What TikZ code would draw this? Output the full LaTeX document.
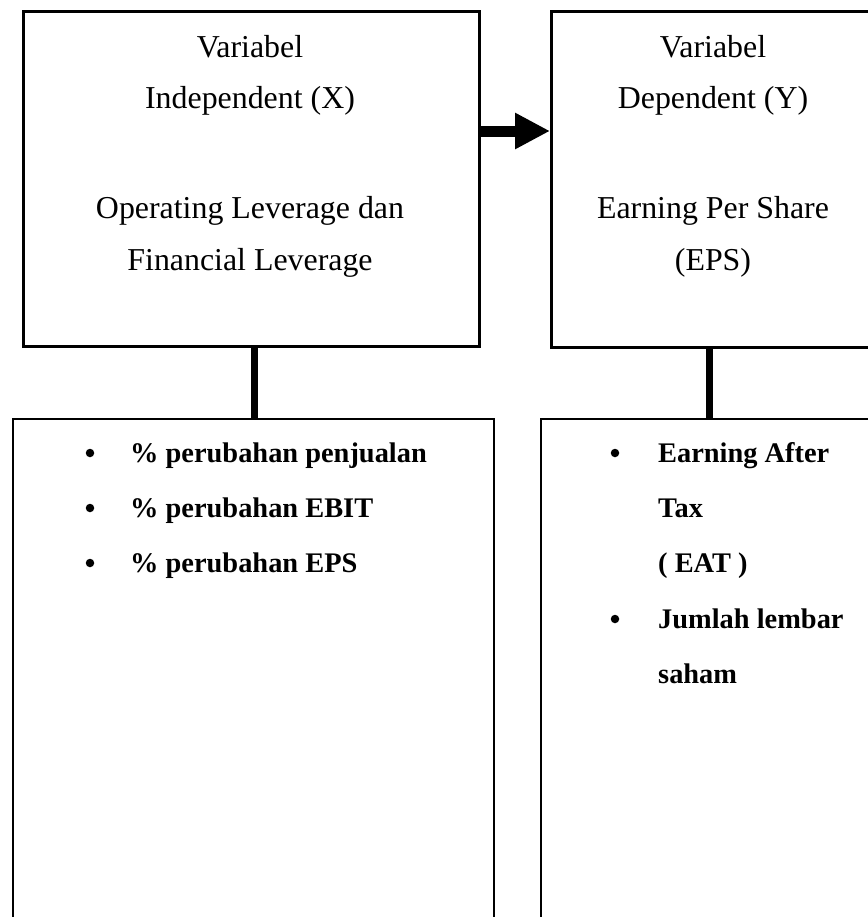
\documentclass[tikz,border=0pt]{standalone}
\usepackage{fontspec}
\setmainfont{Liberation Serif}
\usetikzlibrary{arrows.meta}
\begin{document}
\begin{tikzpicture}[x=1bp,y=-1bp,
  topbox/.style={draw=black,line width=2.5bp,rectangle,inner sep=0pt,anchor=north west},
  botbox/.style={draw=black,line width=2bp,rectangle,inner sep=0pt,anchor=north west},
  toptext/.style={font=\fontsize{32}{38}\selectfont,inner sep=0pt,anchor=base},
  bottext/.style={font=\fontsize{28.5}{34}\selectfont\bfseries,inner sep=0pt,anchor=base west},
  dot/.style={circle,fill=black,inner sep=0pt,minimum size=8.5bp},
  conn/.style={line width=7bp},
  bigarrow/.style={line width=11bp,-{Triangle[length=35bp,width=34bp]}}]
\useasboundingbox[fill=white] (0,0) rectangle (868,917);
% boxes
\node[topbox,minimum width=456bp,minimum height=335bp] (ind) at (22,10) {};
\node[topbox,minimum width=326bp,minimum height=336bp] (dep) at (550,10) {};
\node[botbox,minimum width=481bp,minimum height=600bp] (indb) at (12,418) {};
\node[botbox,minimum width=400bp,minimum height=600bp] (depb) at (540,418) {};
% top-left text
\node[toptext] (t1) at (250,57) {Variabel};
\node[toptext] (t2) at (250,108) {Independent (X)};
\node[toptext] (t3) at (250,218) {Operating Leverage dan};
\node[toptext] (t4) at (250,270) {Financial Leverage};
% top-right text
\node[toptext] (r1) at (713,57) {Variabel};
\node[toptext] (r2) at (713,108) {Dependent (Y)};
\node[toptext] (r3) at (713,218) {Earning Per Share};
\node[toptext] (r4) at (713,270) {(EPS)};
% bottom-left list
\node[dot] (b1) at (90,453) {};
\node[bottext] (l1) at (130,462) {\% perubahan penjualan};
\node[dot] (b2) at (90,508) {};
\node[bottext] (l2) at (130,517) {\% perubahan EBIT};
\node[dot] (b3) at (90,563) {};
\node[bottext] (l3) at (130,572) {\% perubahan EPS};
% bottom-right list
\node[dot] (c1) at (615,453) {};
\node[bottext] (m1) at (658,462) {Earning After};
\node[bottext] (m2) at (658,517) {Tax};
\node[bottext] (m3) at (658,572) {( EAT )};
\node[dot] (c2) at (615,619) {};
\node[bottext] (m4) at (658,628) {Jumlah lembar};
\node[bottext] (m5) at (658,683) {saham};
% connectors
\draw[conn] ([xshift=3bp]ind.south) -- ([xshift=3bp]ind.south |- indb.north);
\draw[conn] ([xshift=-5bp]dep.south) -- ([xshift=-5bp]dep.south |- depb.north);
\coordinate (ay) at (0,131);
\draw[bigarrow] (ind.east |- ay) -- (dep.west |- ay);
\end{tikzpicture}
\end{document}
